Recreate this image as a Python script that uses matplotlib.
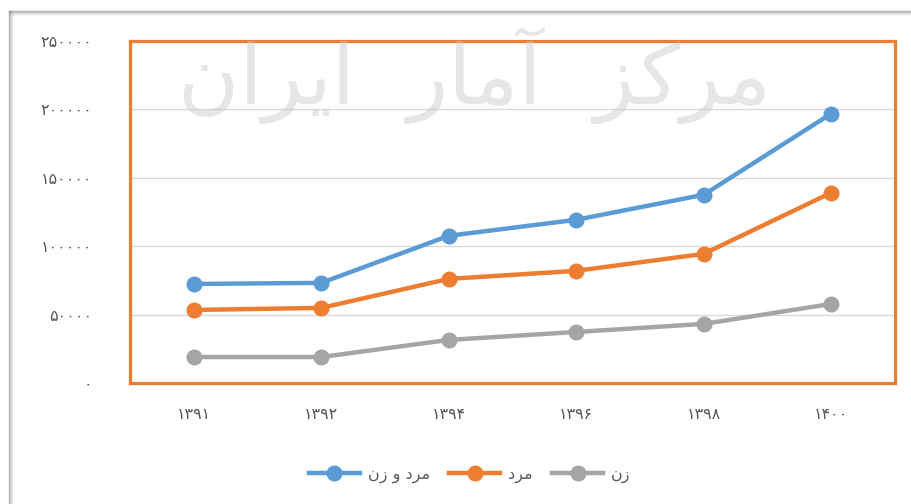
import matplotlib
matplotlib.use('Agg')
import matplotlib.pyplot as plt
from matplotlib.lines import Line2D
import numpy as np

plt.rcParams['font.family'] = ['DejaVu Sans']

# data
years = ['1391', '1392', '1394', '1396', '1398', '1400']
total = [72400, 73200, 107600, 119300, 137600, 196900]
men = [53400, 54900, 76100, 82000, 94400, 139100]
women = [19000, 19000, 31500, 37300, 43200, 57800]
yticks = [0, 50000, 100000, 150000, 200000, 250000]

# labels already in visual (shaped, left-to-right) order
lbl_total = '\uFEE5\uFEAF \uFEED \uFEA9\uFEAE\uFEE3'   # مرد و زن
lbl_men = '\uFEA9\uFEAE\uFEE3'                          # مرد
lbl_women = '\uFEE5\uFEAF'                              # زن
watermark = '\uFEE5\uFE8D\uFEAE\uFBFE\uFE8D  \uFEAD\uFE8E\uFEE3\uFE81  \uFEB0\uFB90\uFEAE\uFEE3'

fa = str.maketrans('0123456789', '\u06f0\u06f1\u06f2\u06f3\u06f4\u06f5\u06f6\u06f7\u06f8\u06f9')

blue = '#5B9BD5'
orange = '#ED7D31'
gray = '#A5A5A5'
txt = '#595959'

fig = plt.figure(figsize=(9.12, 5.04), dpi=100)

# picture frame shadow (left and top)
for i, a in enumerate([0.55, 0.35, 0.2, 0.1, 0.05]):
    fig.add_artist(Line2D([(9 + i) / 912] * 2, [0, (504 - 11) / 504], transform=fig.transFigure,
                          color='#808080', alpha=a, lw=1))
    fig.add_artist(Line2D([9 / 912, 1], [(504 - 11 - i) / 504] * 2, transform=fig.transFigure,
                          color='#808080', alpha=a, lw=1))

# faint watermark behind the plot
fig.text(0.52, 0.85, watermark, fontsize=60, color='#C8C8C8', alpha=0.45,
         ha='center', va='center', zorder=0)

ax = fig.add_axes([130 / 912, (504 - 383) / 504, (895 - 130) / 912, (383 - 41) / 504])
ax.patch.set_alpha(0)

x = np.arange(len(years))
ax.plot(x, total, color=blue, lw=3.2, marker='o', ms=10.5, label=lbl_total, zorder=3)
ax.plot(x, men, color=orange, lw=3.2, marker='o', ms=10.5, label=lbl_men, zorder=3)
ax.plot(x, women, color=gray, lw=3.2, marker='o', ms=10.5, label=lbl_women, zorder=3)

ax.set_xlim(-0.5, len(years) - 0.5)
ax.set_ylim(0, 250000)
ax.set_yticks(yticks)
ax.set_yticklabels([str(v).translate(fa) for v in yticks])
ax.set_xticks(x)
ax.set_xticklabels([y.translate(fa) for y in years])
ax.tick_params(axis='y', length=0, pad=27, labelsize=11.5, labelcolor=txt)
ax.tick_params(axis='x', length=0, pad=17, labelsize=11.5, labelcolor=txt)
ax.grid(axis='y', color='#D9D9D9', lw=1)
ax.set_axisbelow(True)
for s in ax.spines.values():
    s.set_color(orange)
    s.set_linewidth(2.3)

fig.legend(loc='center', bbox_to_anchor=(0.515, 29 / 504), ncol=3, frameon=False,
           handlelength=3.2, handletextpad=0.5, columnspacing=1.2, fontsize=11.5,
           labelcolor=txt)

fig.savefig('out.png', dpi=100)
